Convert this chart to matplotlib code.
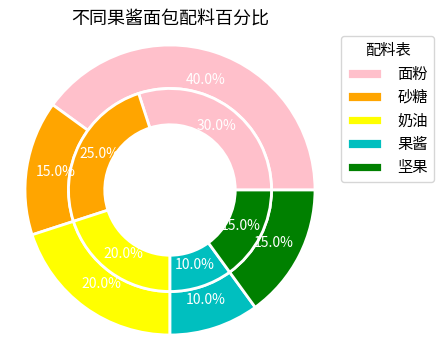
import matplotlib
matplotlib.use("Agg")
import matplotlib.pyplot as plt

plt.rcParams['font.family'] = ['Noto Sans CJK SC', 'DejaVu Sans']
plt.rcParams['axes.unicode_minus'] = False

labels = ['面粉', '砂糖', '奶油', '果酱', '坚果']
outer_vals = [40, 15, 20, 10, 15]
inner_vals = [30, 25, 20, 10, 15]
colors = ['pink', 'orange', 'yellow', 'c', 'g']
title = '不同果酱面包配料百分比'
legend_title = '配料表'

W, H = 438, 361
fig = plt.figure(figsize=(W / 100, H / 100), dpi=100)
R = 145.0
cx, cy = 170.0, 361 - 190.0
half = 1.1 * R
ax = fig.add_axes([(cx - half) / W, (cy - half) / H, 2 * half / W, 2 * half / H])

wedges, texts, autotexts = ax.pie(outer_vals, radius=1.0, colors=colors,
                                  autopct='%3.1f%%', pctdistance=0.8,
                                  wedgeprops=dict(width=0.3, edgecolor='w', linewidth=2),
                                  textprops=dict(color='w', fontsize=10))
ax.pie(inner_vals, radius=0.7, colors=colors,
       autopct='%3.1f%%', pctdistance=0.78,
       wedgeprops=dict(width=0.25, edgecolor='w', linewidth=2),
       textprops=dict(color='w', fontsize=10))
ax.set_xlim(-1.1, 1.1)
ax.set_ylim(-1.1, 1.1)
ax.set_aspect('equal')
ax.set_title(title, fontsize=13, pad=4)

fig.legend(wedges, labels, title=legend_title, loc='upper left',
           bbox_to_anchor=(341 / W, 1 - 36 / H), borderaxespad=0,
           fontsize=11, title_fontsize=11, handlelength=2.3, handletextpad=1.0,
           labelspacing=0.42, borderpad=0.4)

fig.savefig('out.png', dpi=100)
